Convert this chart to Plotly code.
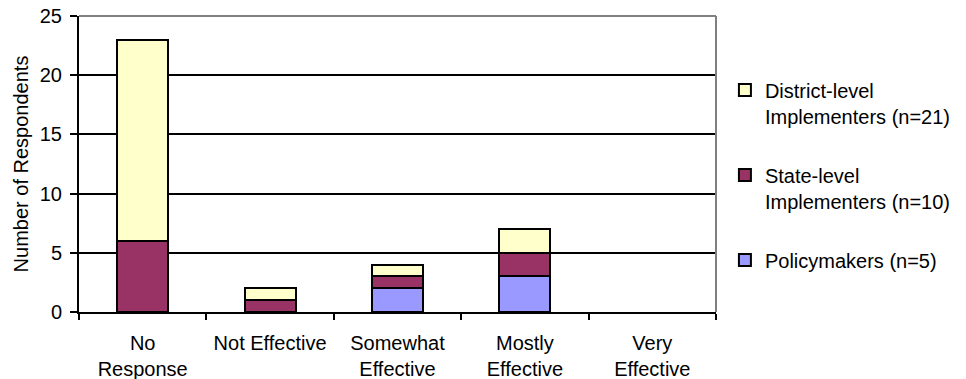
import plotly.graph_objects as go

categories = ["No<br>Response", "Not Effective", "Somewhat<br>Effective", "Mostly<br>Effective", "Very<br>Effective"]
policymakers = [0, 0, 2, 3, 0]
state_level = [6, 1, 1, 2, 0]
district_level = [17, 1, 1, 2, 0]

series = [
    ("Policymakers (n=5)", policymakers, "#9999FF", 3),
    ("State-level<br>Implementers (n=10)", state_level, "#993366", 2),
    ("District-level<br>Implementers (n=21)", district_level, "#FFFFCC", 1),
]

fig = go.Figure()
for i, (name, vals, color, rank) in enumerate(series):
    fig.add_trace(go.Bar(
        x=categories, y=[v if v != 0 else None for v in vals],
        name=name, legendgroup=str(i), legendrank=rank,
        marker=dict(color=color, line=dict(color="black", width=2)),
    ))

fig.update_layout(
    barmode="stack",
    bargap=0.6,
    width=966, height=379,
    margin=dict(l=79, r=250, t=16, b=67, autoexpand=False),
    plot_bgcolor="white", paper_bgcolor="white",
    font=dict(family="Liberation Sans, Arial", size=20, color="black"),
    legend=dict(
        x=1.014, y=0.463, xanchor="left", yanchor="middle",
        traceorder="grouped", tracegroupgap=30,
        valign="top", font=dict(size=20), itemwidth=30,
    ),
    xaxis=dict(
        type="category", tickson="boundaries", ticks="outside", ticklen=6,
        tickcolor="black", tickwidth=2, showline=True, linecolor="black",
        linewidth=2, showgrid=False, tickfont=dict(size=20), ticklabelstandoff=12,
    ),
    yaxis=dict(
        range=[0, 25], dtick=5, ticks="outside", ticklen=7, tickcolor="black",
        tickwidth=2, showline=True, linecolor="black", linewidth=2,
        showgrid=True, gridcolor="black", gridwidth=2, zeroline=False,
        title=dict(text="Number of Respondents", font=dict(size=20), standoff=6),
        tickfont=dict(size=20), ticklabelstandoff=4,
    ),
)
fig.add_shape(type="line", xref="x domain", yref="y domain", x0=0, x1=1, y0=1, y1=1,
              line=dict(color="#808080", width=2))
fig.add_shape(type="line", xref="x domain", yref="y domain", x0=1, x1=1, y0=0, y1=1,
              line=dict(color="#808080", width=2))

fig.write_html("out.html")
